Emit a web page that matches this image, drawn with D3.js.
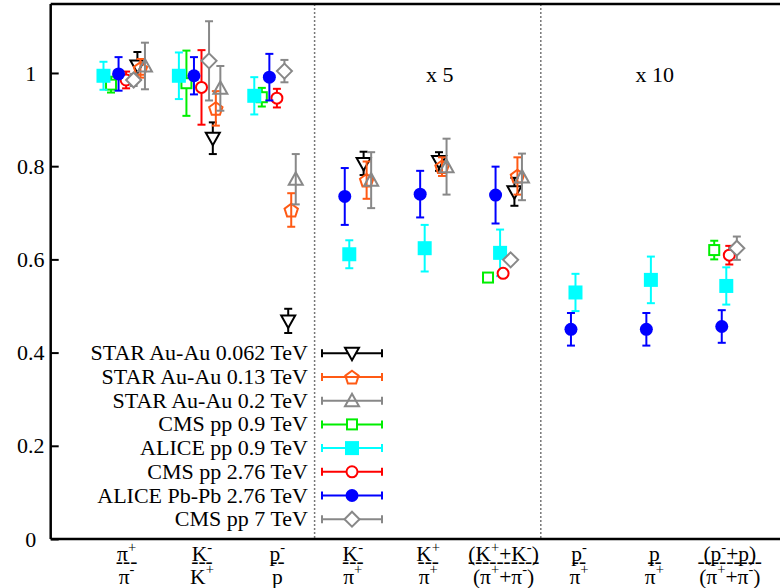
<!DOCTYPE html>
<html>
<head>
<meta charset="utf-8">
<script src="https://cdn.jsdelivr.net/npm/d3@7"></script>
<style>
  html, body { margin: 0; padding: 0; background: #fff; }
  svg { display: block; }
  text { font-family: "Liberation Serif", "Times New Roman", serif; fill: #000; }
</style>
</head>
<body>
<svg id="chart" width="780" height="588"></svg>
<script>
// ---------------- data ----------------
const categories = [1, 2, 3, 4, 5, 6, 7, 8, 9];
const numerators = ["π^{+}", "K^{-}", "p^{-}", "K^{-}", "K^{+}", "(K^{+}+K^{-})", "p^{-}", "p", "(p^{-}+p)"];
const fractionBars = ["---", "---", "--", "---", "---", "----------", "--", "--", "---------"];
const denominators = ["π^{-}", "K^{+}", "p", "π^{+}", "π^{+}", "(π^{+}+π^{-})", "π^{+}", "π^{+}", "(π^{+}+π^{-})"];
const yTickValues = [0, 0.2, 0.4, 0.6, 0.8, 1];
const scaleNotes = ["x 5", "x 10"];
const scaleNoteCategory = [5.16, 8.01];
const groupDividers = [3.5, 6.5];

const seriesNames = [
  "STAR Au-Au 0.062 TeV", "STAR Au-Au 0.13 TeV", "STAR Au-Au 0.2 TeV", "CMS pp 0.9 TeV",
  "ALICE pp 0.9 TeV", "CMS pp 2.76 TeV", "ALICE Pb-Pb 2.76 TeV", "CMS pp 7 TeV"
];
const starAuAu62 = [1.015, 0.860, 0.468, 0.806, 0.810, 0.745, null, null, null];
const starAuAu62Err = [0.030, 0.034, 0.026, 0.025, 0.020, 0.030, null, null, null];
const starAuAu130 = [1.010, 0.924, 0.706, 0.770, 0.799, 0.779, null, null, null];
const starAuAu130Err = [0.020, 0.037, 0.036, 0.040, 0.020, 0.040, null, null, null];
const starAuAu200 = [1.015, 0.967, 0.772, 0.770, 0.799, 0.777, null, null, null];
const starAuAu200Err = [0.050, 0.048, 0.054, 0.060, 0.060, 0.050, null, null, null];
const cmsPp09 = [0.975, 0.978, 0.948, null, null, 0.561, null, null, 0.620];
const cmsPp09Err = [0.017, 0.070, 0.020, null, null, 0.005, null, null, 0.020];
const alicePp09 = [0.994, 0.994, 0.951, 0.611, 0.624, 0.614, 0.529, 0.556, 0.543];
const alicePp09Err = [0.030, 0.050, 0.040, 0.030, 0.050, 0.050, 0.040, 0.050, 0.040];
const cmsPp276 = [0.985, 0.969, 0.946, null, null, 0.570, null, null, 0.609];
const cmsPp276Err = [0.018, 0.080, 0.020, null, null, 0.005, null, null, 0.020];
const alicePbPb276 = [0.998, 0.994, 0.991, 0.735, 0.740, 0.738, 0.450, 0.450, 0.456];
const alicePbPb276Err = [0.036, 0.040, 0.050, 0.061, 0.050, 0.061, 0.035, 0.035, 0.035];
const cmsPp7 = [0.985, 1.026, 1.004, null, null, 0.599, null, null, 0.624];
const cmsPp7Err = [0.013, 0.085, 0.024, null, null, 0.007, null, null, 0.025];

// ---------------- styles (not data) ----------------
const seriesStyle = [
  { values: starAuAu62, errors: starAuAu62Err, color: "#000000", marker: "triDown", dx: [0.15] },
  { values: starAuAu130, errors: starAuAu130Err, color: "#ff5a14", marker: "pentagon", dx: [0.19] },
  { values: starAuAu200, errors: starAuAu200Err, color: "#888888", marker: "triUp", dx: [0.25] },
  { values: cmsPp09, errors: cmsPp09Err, color: "#00ee00", marker: "squareOpen", dx: [-0.2] },
  { values: alicePp09, errors: alicePp09Err, color: "#00ffff", marker: "squareFilled", dx: [-0.3, -0.04] },
  { values: cmsPp276, errors: cmsPp276Err, color: "#ff0000", marker: "circleOpen", dx: [0] },
  { values: alicePbPb276, errors: alicePbPb276Err, color: "#0000ff", marker: "circleFilled", dx: [-0.1] },
  { values: cmsPp7, errors: cmsPp7Err, color: "#888888", marker: "diamond", dx: [0.1] }
];

// ---------------- layout ----------------
const svg = d3.select("#chart");
const plotLeft = 50.7, plotTop = 4, plotBottom = 539;
const x = d3.scaleLinear().domain([0, 10]).range([plotLeft, 804.7]);
const y = d3.scaleLinear().domain([0, 1.148]).range([plotBottom, plotTop]);
const FONT = 22;

function drawMarker(g, type, color) {
  const sw = 2;
  switch (type) {
    case "triDown":
      g.append("path").attr("d", "M-7,-5.5L7,-5.5L0,7Z").attr("fill", "#fff").attr("stroke", color).attr("stroke-width", sw);
      break;
    case "triUp":
      g.append("path").attr("d", "M-7,5.5L7,5.5L0,-7Z").attr("fill", "none").attr("stroke", color).attr("stroke-width", sw);
      break;
    case "pentagon": {
      const r = 7;
      const pts = d3.range(5).map(k => {
        const a = -Math.PI / 2 + k * 2 * Math.PI / 5;
        return [r * Math.cos(a), r * Math.sin(a) + 0.8];
      });
      g.append("path").attr("d", "M" + pts.map(p => p.join(",")).join("L") + "Z").attr("fill", "none").attr("stroke", color).attr("stroke-width", sw);
      break;
    }
    case "squareOpen":
      g.append("rect").attr("x", -5).attr("y", -5).attr("width", 10).attr("height", 10).attr("fill", "#fff").attr("stroke", color).attr("stroke-width", sw);
      break;
    case "squareFilled":
      g.append("rect").attr("x", -7).attr("y", -7).attr("width", 14).attr("height", 14).attr("fill", color);
      break;
    case "circleOpen":
      g.append("circle").attr("r", 5.5).attr("fill", "#fff").attr("stroke", color).attr("stroke-width", sw);
      break;
    case "circleFilled":
      g.append("circle").attr("r", 6.5).attr("fill", color);
      break;
    case "diamond":
      g.append("path").attr("d", "M0,-7.5L7.5,0L0,7.5L-7.5,0Z").attr("fill", "#fff").attr("stroke", color).attr("stroke-width", sw);
      break;
  }
}

// group dividers (dotted)
svg.selectAll("line.divider").data(groupDividers).enter().append("line")
  .attr("class", "divider")
  .attr("x1", d => x(d)).attr("x2", d => x(d))
  .attr("y1", plotTop).attr("y2", plotBottom)
  .attr("stroke", "#777").attr("stroke-width", 1.5).attr("stroke-dasharray", "2,2");

// scale notes
svg.selectAll("text.note").data(scaleNotes).enter().append("text")
  .attr("class", "note")
  .attr("x", (d, i) => x(scaleNoteCategory[i])).attr("y", 82)
  .attr("text-anchor", "middle").attr("font-size", FONT)
  .text(d => d);

// y axis
const yAxis = d3.axisLeft(y).tickValues(yTickValues).tickSize(-8).tickFormat(d3.format("~g"));
const gy = svg.append("g").attr("transform", `translate(${plotLeft},0)`).call(yAxis);
gy.select(".domain").remove();
gy.selectAll(".tick line").attr("stroke", "#000").attr("stroke-width", 2);
gy.selectAll(".tick text").attr("x", -20).attr("text-anchor", "middle")
  .attr("font-size", FONT).attr("font-family", "Liberation Serif").attr("fill", "#000");

// x axis with fraction labels
const xAxis = d3.axisBottom(x).tickValues(categories).tickSize(0).tickFormat("");
const gx = svg.append("g").attr("transform", `translate(0,${plotBottom})`).call(xAxis);
gx.select(".domain").remove();

function richText(sel, str, fs) {
  const parts = str.split(/\^\{([^}]*)\}/);
  const shift = fs * 0.42;
  let raised = false;
  parts.forEach((p, i) => {
    const isSup = i % 2 === 1;
    if (p === "") return;
    const ts = sel.append("tspan").attr("font-size", isSup ? fs * 0.68 : fs).text(p);
    if (isSup && !raised) { ts.attr("dy", -shift); raised = true; }
    else if (!isSup && raised) { ts.attr("dy", shift); raised = false; }
  });
}
const XFS = 21.5;
gx.selectAll(".tick").each(function (d, i) {
  const t = d3.select(this);
  const num = t.append("text").attr("x", 0).attr("y", 22).attr("text-anchor", "middle").attr("font-size", XFS).attr("fill", "#000");
  richText(num, numerators[i], XFS);
  t.append("text").attr("x", 0).attr("y", 29).attr("text-anchor", "middle").attr("font-size", XFS).attr("fill", "#000")
    .text(fractionBars[i]);
  const den = t.append("text").attr("x", 0).attr("y", 44.5).attr("text-anchor", "middle").attr("font-size", XFS).attr("fill", "#000");
  richText(den, denominators[i], XFS);
});

// frame
svg.append("line").attr("x1", plotLeft).attr("x2", 780).attr("y1", plotTop).attr("y2", plotTop).attr("stroke", "#000").attr("stroke-width", 2.5);
svg.append("line").attr("x1", plotLeft).attr("x2", plotLeft).attr("y1", plotTop).attr("y2", plotBottom).attr("stroke", "#000").attr("stroke-width", 2.5);
svg.append("line").attr("x1", plotLeft).attr("x2", 780).attr("y1", plotBottom).attr("y2", plotBottom).attr("stroke", "#000").attr("stroke-width", 2.5);

// data points
const cap = 4;
seriesStyle.forEach((s) => {
  const g = svg.append("g");
  const pts = categories.map((c, i) => ({
    cx: c + (s.dx.length > 1 && c > 3 ? s.dx[1] : s.dx[0]),
    v: s.values[i], e: s.errors[i]
  })).filter(p => p.v !== null);
  const pg = g.selectAll("g.pt").data(pts).enter().append("g").attr("class", "pt");
  pg.append("line").attr("x1", p => x(p.cx)).attr("x2", p => x(p.cx))
    .attr("y1", p => y(p.v - p.e)).attr("y2", p => y(p.v + p.e))
    .attr("stroke", s.color).attr("stroke-width", 2);
  pg.append("line").attr("x1", p => x(p.cx) - cap).attr("x2", p => x(p.cx) + cap)
    .attr("y1", p => y(p.v + p.e)).attr("y2", p => y(p.v + p.e))
    .attr("stroke", s.color).attr("stroke-width", 2);
  pg.append("line").attr("x1", p => x(p.cx) - cap).attr("x2", p => x(p.cx) + cap)
    .attr("y1", p => y(p.v - p.e)).attr("y2", p => y(p.v - p.e))
    .attr("stroke", s.color).attr("stroke-width", 2);
  pg.each(function (p) {
    const m = d3.select(this).append("g").attr("transform", `translate(${x(p.cx)},${y(p.v)})`);
    drawMarker(m, s.marker, s.color);
  });
});

// legend
const legX = 308, legY0 = 353.3, legDy = 23.7, sampleX1 = 322, sampleX2 = 382;
seriesStyle.forEach((s, i) => {
  const cy = legY0 + i * legDy;
  const g = svg.append("g");
  g.append("text").attr("x", legX).attr("y", cy + 7).attr("text-anchor", "end").attr("font-size", FONT).text(seriesNames[i]);
  g.append("line").attr("x1", sampleX1).attr("x2", sampleX2).attr("y1", cy).attr("y2", cy).attr("stroke", s.color).attr("stroke-width", 2);
  [sampleX1, sampleX2].forEach(xx => g.append("line").attr("x1", xx).attr("x2", xx).attr("y1", cy - cap).attr("y2", cy + cap).attr("stroke", s.color).attr("stroke-width", 2));
  const m = g.append("g").attr("transform", `translate(${(sampleX1 + sampleX2) / 2},${cy})`);
  drawMarker(m, s.marker, s.color);
});
</script>
</body>
</html>
